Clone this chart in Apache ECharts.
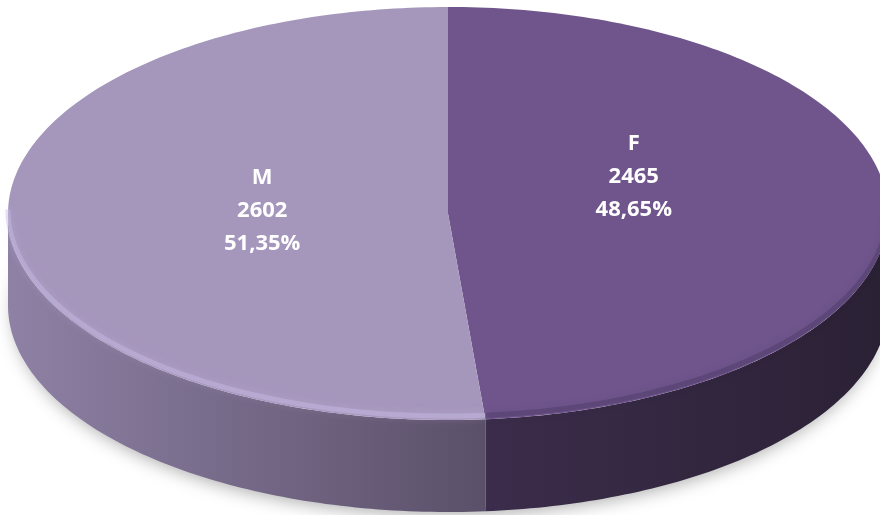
<!DOCTYPE html>
<html lang="en">
<head>
    <meta charset="UTF-8">
    <script src="https://cdn.jsdelivr.net/npm/echarts@6/dist/echarts.min.js"></script>
    <title>Pie 3D</title>
    <style>
        html, body { margin: 0; padding: 0; background: #fff; }
        #main { width: 880px; height: 515px; }
    </style>
</head>
<body>
<div id="main"></div>
<script type="text/javascript">
    // data
    var names = ['F', 'M'];
    var values = [2465, 2602];
    var topColors = ['#6f558c', '#a596bc'];
    var sideColors = [['#3b2d4b', '#2b2135'], ['#8f82a6', '#5a4f68']];

    var total = values.reduce(function (a, b) { return a + b; }, 0);

    // ellipse geometry of the top face
    var cx = 448, cy = 213.5, rx = 440, ry = 206.5, depth = 92;
    var labelTilt = -8.5 * Math.PI / 180;

    function pt(a, dy) {
        return [cx + rx * Math.sin(a), cy - ry * Math.cos(a) + (dy || 0)];
    }
    function arc(a0, a1, dy) {
        var pts = [];
        var n = Math.max(2, Math.ceil(Math.abs(a1 - a0) / (Math.PI / 180)));
        for (var k = 0; k <= n; k++) {
            pts.push(pt(a0 + (a1 - a0) * k / n, dy));
        }
        return pts;
    }

    function renderItem(params, api) {
        var i = params.dataIndex;
        var v = api.value(0);
        var before = 0;
        for (var k = 0; k < i; k++) before += values[k];
        var a0 = before / total * Math.PI * 2;
        var a1 = (before + v) / total * Math.PI * 2;
        var children = [];

        // shadow under the pie (once)
        if (i === 0) {
            children.push({
                type: 'ellipse',
                shape: { cx: cx, cy: cy + depth, rx: rx - 6, ry: ry - 4 },
                style: {
                    fill: '#fff',
                    shadowColor: 'rgba(0,0,0,0.35)',
                    shadowBlur: 18,
                    shadowOffsetY: 6
                },
                z2: 1
            });
        }

        // visible side wall (front half)
        var s = Math.max(a0, Math.PI / 2), e = Math.min(a1, Math.PI * 1.5);
        if (e > s) {
            var wall = arc(s, e, 0).concat(arc(e, s, depth));
            children.push({
                type: 'polygon',
                shape: { points: wall },
                style: {
                    fill: {
                        type: 'linear', x: 0, y: 0, x2: 880, y2: 0, global: true,
                        colorStops: i === 0
                            ? [{ offset: 0.55, color: sideColors[i][0] }, { offset: 1, color: sideColors[i][1] }]
                            : [{ offset: 0, color: sideColors[i][0] }, { offset: 0.56, color: sideColors[i][1] }]
                    }
                },
                z2: 2
            });
            // soft rim on the top edge
            children.push({
                type: 'polyline',
                shape: { points: arc(s, e, -4) },
                style: {
                    stroke: i === 0 ? 'rgba(40,28,58,0.22)' : 'rgba(200,188,228,0.45)',
                    lineWidth: 5,
                    fill: null,
                    shadowColor: i === 0 ? 'rgba(40,28,58,0.35)' : 'rgba(210,200,240,0.5)',
                    shadowBlur: 8
                },
                z2: 4
            });
        }

        // top face
        children.push({
            type: 'polygon',
            shape: { points: [[cx, cy]].concat(arc(a0, a1, 0)) },
            style: { fill: topColors[i] },
            z2: 3
        });

        // label
        var mid = (a0 + a1) / 2 + labelTilt;
        var pct = (v / total * 100).toFixed(2).replace('.', ',');
        children.push({
            type: 'text',
            x: cx + 0.43 * rx * Math.sin(mid),
            y: cy - 0.43 * ry * Math.cos(mid) - 20,
            style: {
                text: names[i] + '\n' + v + '\n' + pct + '%',
                fill: '#ffffff',
                fontSize: 22,
                fontWeight: 'bold',
                fontFamily: '"Open Sans", sans-serif',
                align: 'center',
                verticalAlign: 'middle',
                lineHeight: 33
            },
            z2: 10
        });

        return { type: 'group', children: children };
    }

    var myChart = echarts.init(document.getElementById('main'));
    var option = {
        animation: false,
        series: [{
            type: 'custom',
            coordinateSystem: 'none',
            renderItem: renderItem,
            data: values.map(function (v, i) { return { name: names[i], value: [v] }; })
        }]
    };
    myChart.setOption(option);
</script>
</body>
</html>
